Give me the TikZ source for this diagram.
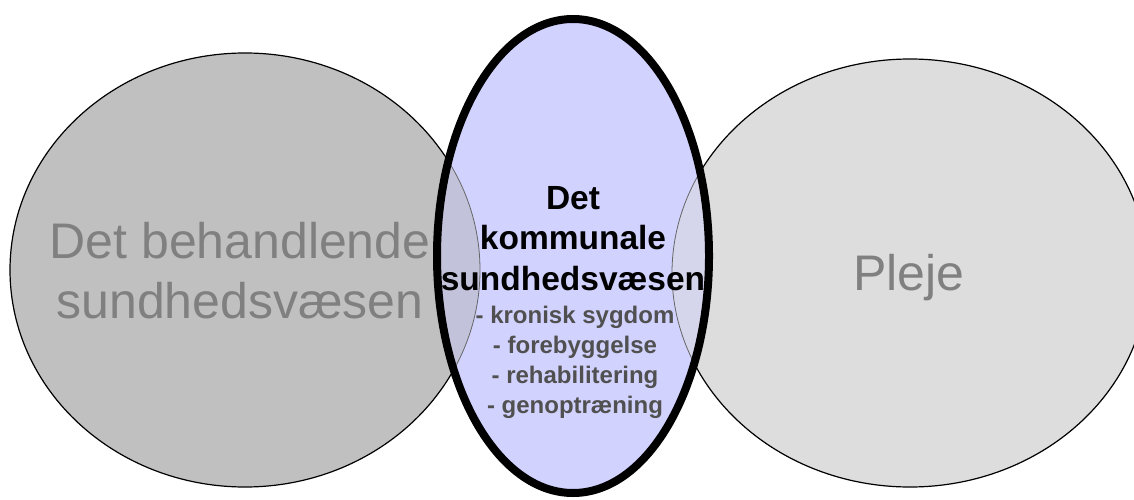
\documentclass[tikz,border=0pt]{standalone}
\usepackage{fontspec}
\setmainfont{Liberation Sans}
\definecolor{leftfill}{HTML}{C0C0C0}
\definecolor{rightfill}{HTML}{DDDDDD}
\definecolor{midfill}{HTML}{D2D2FF}
\definecolor{leftov}{HTML}{C2C2DA}
\definecolor{rightov}{HTML}{D5D5EC}
\definecolor{sidetext}{HTML}{808080}
\definecolor{subtext}{HTML}{505050}
\begin{document}
\begin{tikzpicture}[x=1pt,y=-1pt,
  sidecircle/.style={draw=black,line width=1.2pt},
  bigtext/.style={text=sidetext,font=\fontsize{50}{60}\selectfont,align=center,anchor=base,inner sep=0pt},
  midtitle/.style={font=\fontsize{33.5}{40.5}\selectfont\bfseries,align=center,anchor=base,inner sep=0pt},
  midsub/.style={text=subtext,font=\fontsize{24}{30}\selectfont\bfseries,align=center,anchor=base,inner sep=0pt}]
\useasboundingbox (0,0) rectangle (1134,500);
\clip (0,0) rectangle (1134,500);
\fill[white] (0,0) rectangle (1134,500);
% side circles
\filldraw[sidecircle,fill=leftfill] (245,270) ellipse [x radius=235, y radius=217];
\filldraw[sidecircle,fill=rightfill] (910,273) ellipse [x radius=238, y radius=214];
\node[bigtext] (left) at (240,318) {Det behandlende\\sundhedsvæsen};
\node[bigtext] (pleje) at (909,290) {Pleje};
% middle ellipse
\fill[midfill] (573,256) ellipse [x radius=136, y radius=237];
\begin{scope}
  \clip (573,256) ellipse [x radius=136, y radius=237];
  \fill[leftov] (245,270) ellipse [x radius=235, y radius=217];
  \fill[rightov] (910,273) ellipse [x radius=238, y radius=214];
  \draw[gray!80!black,line width=0.8pt] (245,270) ellipse [x radius=235, y radius=217];
  \draw[gray!80!black,line width=0.8pt] (910,273) ellipse [x radius=238, y radius=214];
\end{scope}
\draw[black,line width=8pt] (573,256) ellipse [x radius=136, y radius=237];
\node[midtitle] (title) at (573,290) {Det\\kommunale\\sundhedsvæsen};
\node[midsub] (items) at (575,413) {- kronisk sygdom\\- forebyggelse\\- rehabilitering\\- genoptræning};
\end{tikzpicture}
\end{document}
